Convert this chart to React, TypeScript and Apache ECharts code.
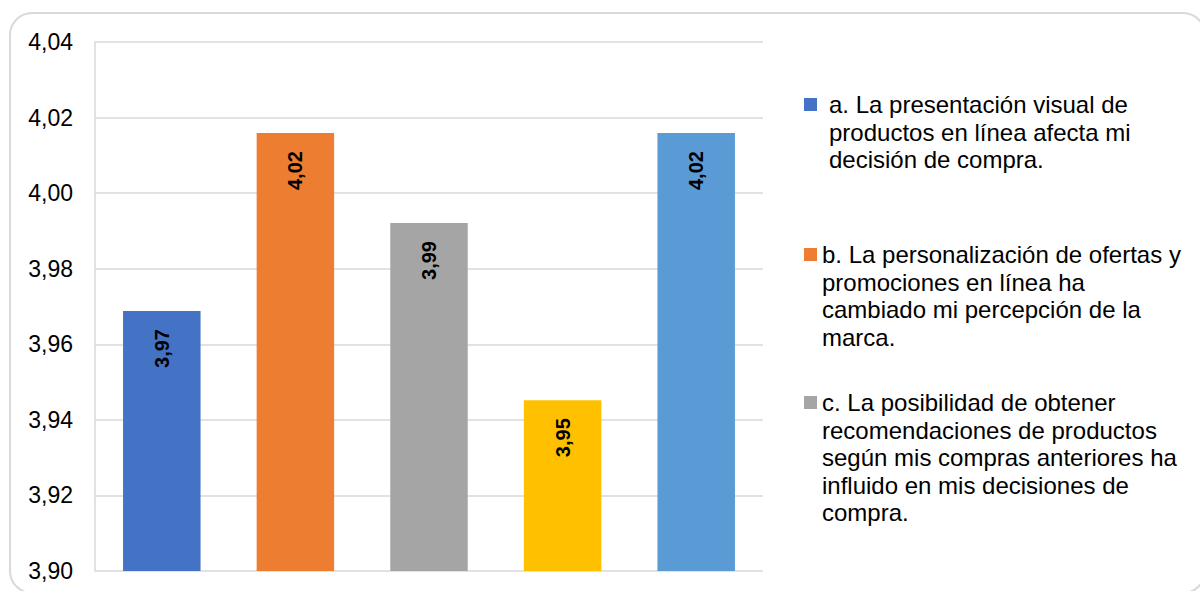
import React, { useEffect, useRef } from "react";
import * as echarts from "echarts";

const categories = ["a", "b", "c", "d", "e"];
const seriesNames = [
  "a. La presentación visual de productos en línea afecta mi decisión de compra.",
  "b. La personalización de ofertas y promociones en línea ha cambiado mi percepción de la marca.",
  "c. La posibilidad de obtener recomendaciones de productos según mis compras anteriores ha influido en mis decisiones de compra.",
  "d.",
  "e.",
];
const values = [3.9688, 4.0159, 3.9921, 3.9452, 4.0159];
const colors = ["#4472C4", "#ED7D31", "#A5A5A5", "#FFC000", "#5B9BD5"];
const legendLines = [
  ["a. La presentación visual de", "productos en línea afecta mi", "decisión de compra."],
  ["b. La personalización de ofertas y", "promociones en línea ha", "cambiado mi percepción de la", "marca."],
  [
    "c. La posibilidad de obtener",
    "recomendaciones de productos",
    "según mis compras anteriores ha",
    "influido en mis decisiones de",
    "compra.",
  ],
];
const yTicks = { min: 3.9, max: 4.04, interval: 0.02 };

const FONT = "'Liberation Sans', Arial, sans-serif";
const fmt = (v: number) => v.toFixed(2).replace(".", ",");

export default function App() {
  const ref = useRef<HTMLDivElement>(null);
  useEffect(() => {
    if (!ref.current) return;
    const chart = echarts.init(ref.current, undefined, { renderer: "svg" });
    const LH = 27.5;
    const firstLineCenters = [104.5, 254.5, 402.5];
    const legends = legendLines.map((lines, i) => ({
      data: [seriesNames[i]],
      orient: "vertical",
      left: 804,
      top: firstLineCenters[i] - LH / 2,
      padding: 0,
      itemWidth: 13,
      itemHeight: 13,
      icon: "rect",
      itemStyle: { opacity: 0 },
      selectedMode: false,
      formatter: () => lines.join("\n"),
      textStyle: {
        fontFamily: FONT,
        fontSize: 24,
        lineHeight: LH,
        color: "#000",
        padding: [0, 0, 0, i === 0 ? 7 : 0],
      },
    }));
    const markers = legendLines.map((_, i) => ({
      type: "rect",
      shape: { x: 804, y: firstLineCenters[i] - 6.5, width: 13, height: 13 },
      style: { fill: colors[i] },
      silent: true,
    }));
    chart.setOption({
      animation: false,
      backgroundColor: "#fff",
      graphic: [
        {
          type: "rect",
          shape: { x: 10, y: 13, width: 1195, height: 580, r: 22 },
          style: { fill: "none", stroke: "#d9d9d9", lineWidth: 2 },
          silent: true,
        },
        ...markers,
      ],
      legend: legends,
      grid: { left: 95, right: 437, top: 42, bottom: 20, containLabel: false },
      xAxis: {
        type: "category",
        data: categories,
        axisLine: { show: false },
        axisTick: { show: false },
        axisLabel: { show: false },
      },
      yAxis: {
        type: "value",
        min: yTicks.min,
        max: yTicks.max,
        interval: yTicks.interval,
        axisLine: { show: true, lineStyle: { color: "#d9d9d9", width: 1.5 } },
        axisTick: { show: false },
        splitLine: { lineStyle: { color: "#d9d9d9", width: 1.5 } },
        axisLabel: {
          formatter: (v: number) => fmt(v),
          fontFamily: FONT,
          fontSize: 23,
          color: "#000",
          margin: 22,
        },
      },
      series: seriesNames.map((name, i) => ({
        name,
        type: "bar",
        stack: "all",
        barWidth: "58%",
        itemStyle: { color: colors[i] },
        data: categories.map((_, j) => (j === i ? values[i] : null)),
        label: {
          show: true,
          position: "insideTop",
          distance: 18,
          rotate: 90,
          align: "right",
          verticalAlign: "middle",
          formatter: (p: any) => fmt(p.value),
          fontFamily: FONT,
          fontSize: 20,
          fontWeight: "bold",
          color: "#000",
        },
      })),
    });
    return () => chart.dispose();
  }, []);
  return (
    <div
      ref={ref}
      style={{ position: "absolute", left: 0, top: 0, width: 1200, height: 591 }}
    />
  );
}
